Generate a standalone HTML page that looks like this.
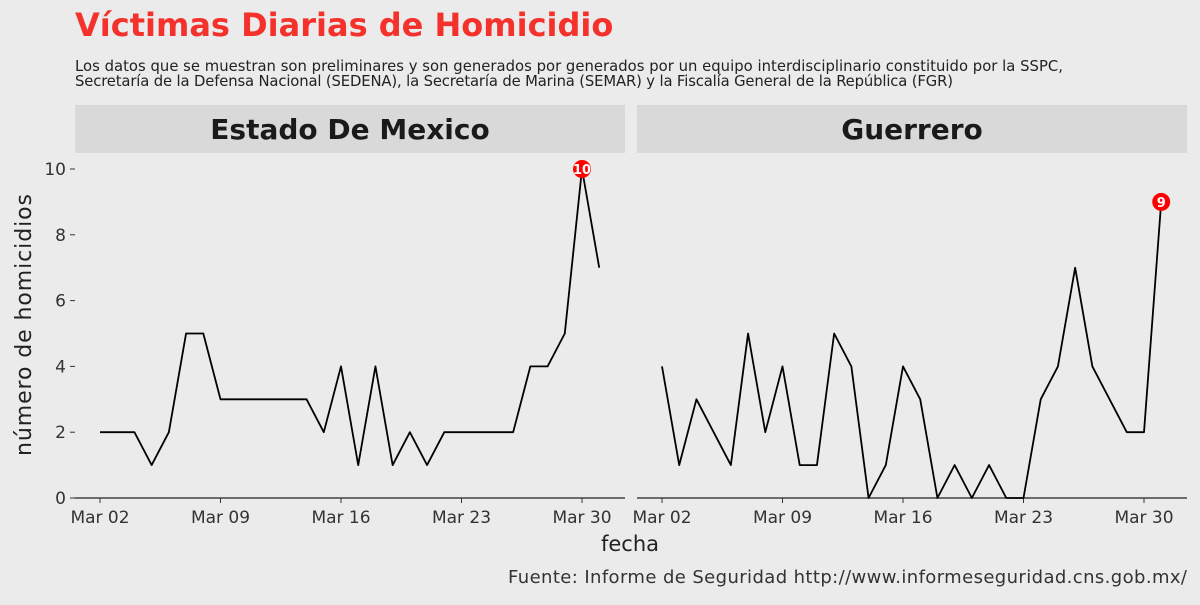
<!DOCTYPE html>
<html><head><meta charset="utf-8"><style>
body{margin:0;background:#ebebeb;}
svg text{font-family:"DejaVu Sans","Liberation Sans",sans-serif;}
</style></head><body>
<svg width="1200" height="600" viewBox="0 0 1200 600">
<rect width="1200" height="600" fill="#ebebeb"/>
<text x="75" y="36" font-size="32" font-weight="bold" fill="#f4312b">Víctimas Diarias de Homicidio</text>
<text x="75" y="71" font-size="14.8" fill="#222" textLength="988">Los datos que se muestran son preliminares y son generados por generados por un equipo interdisciplinario constituido por la SSPC,</text>
<text x="75" y="86" font-size="14.8" fill="#222" textLength="878">Secretaría de la Defensa Nacional (SEDENA), la Secretaría de Marina (SEMAR) y la Fiscalía General de la República (FGR)</text>
<g id="plot"></g>
<text x="630" y="551" font-size="21" fill="#222" text-anchor="middle">fecha</text>
<text transform="translate(31,325) rotate(-90)" font-size="22" fill="#222" text-anchor="middle" textLength="262">número de homicidios</text>
<text x="1187" y="583" font-size="18" fill="#333" text-anchor="end" textLength="679">Fuente: Informe de Seguridad http://www.informeseguridad.cns.gob.mx/</text>
</svg>
<script>
const panels = ["Estado De Mexico", "Guerrero"];
const days = [2,3,4,5,6,7,8,9,10,11,12,13,14,15,16,17,18,19,20,21,22,23,24,25,26,27,28,29,30,31];
const mexico = [2,2,2,1,2,5,5,3,3,3,3,3,3,2,4,1,4,1,2,1,2,2,2,2,2,4,4,5,10,7];
const guerrero = [4,1,3,2,1,5,2,4,1,1,5,4,0,1,4,3,0,1,0,1,0,0,3,4,7,4,3,2,2,9];
const tickDays = [2,9,16,23,30];
const tickLabels = ["Mar 02","Mar 09","Mar 16","Mar 23","Mar 30"];
const yTicks = [0,2,4,6,8,10];
const series = [mexico, guerrero];
const NS = "http://www.w3.org/2000/svg";
const g = document.getElementById('plot');
function mk(t, a, p){const e=document.createElementNS(NS,t);for(const k in a)e.setAttribute(k,a[k]);(p||g).appendChild(e);return e;}
const pLeft=[75,637], pW=550, x0off=25, dayW=482/28;
const y=v=>498-v*32.9;
panels.forEach((name,pi)=>{
  const L=pLeft[pi];
  const x=d=>L+x0off+(d-2)*dayW;
  const strip=mk('rect',{x:L,y:105,width:pW,height:48,fill:'#d9d9d9'});
  
  
  const st=mk('text',{x:L+pW/2,y:139,'font-size':28,'font-weight':'bold','text-anchor':'middle',fill:'#1a1a1a'});
  st.textContent=name;
  
  
  const ax=mk('line',{x1:L,x2:L+pW,y1:498,y2:498,stroke:'#222','stroke-width':1.2});
  
  
  tickDays.forEach((d,i)=>{
    mk('line',{x1:x(d),x2:x(d),y1:498,y2:503,stroke:'#333'});
    const t=mk('text',{x:x(d),y:523,'font-size':17,'text-anchor':'middle',fill:'#333'});
    t.textContent=tickLabels[i];
    
    
  });
  if(pi===0){
    yTicks.forEach(v=>{
      mk('line',{x1:70,x2:75,y1:y(v),y2:y(v),stroke:'#333'});
      const t=mk('text',{x:66,y:y(v)+6,'font-size':17,'text-anchor':'end',fill:'#333'});
      t.textContent=v;
      
      
    });
  }
  const vals=series[pi];
  const pl=mk('polyline',{points:vals.map((v,i)=>x(days[i])+','+y(v)).join(' '),fill:'none',stroke:'#000','stroke-width':1.8,'stroke-linejoin':'round'});
  
  
  let mi=0;vals.forEach((v,i)=>{if(v>vals[mi])mi=i;});
  const c=mk('circle',{cx:x(days[mi]),cy:y(vals[mi]),r:9,fill:'#f00'});
  
  
  const lt=mk('text',{x:x(days[mi]),y:y(vals[mi])+5,'font-size':13,'font-weight':'bold','text-anchor':'middle',fill:'#fff'});
  lt.textContent=vals[mi];
  
  
});
</script>
</body></html>
